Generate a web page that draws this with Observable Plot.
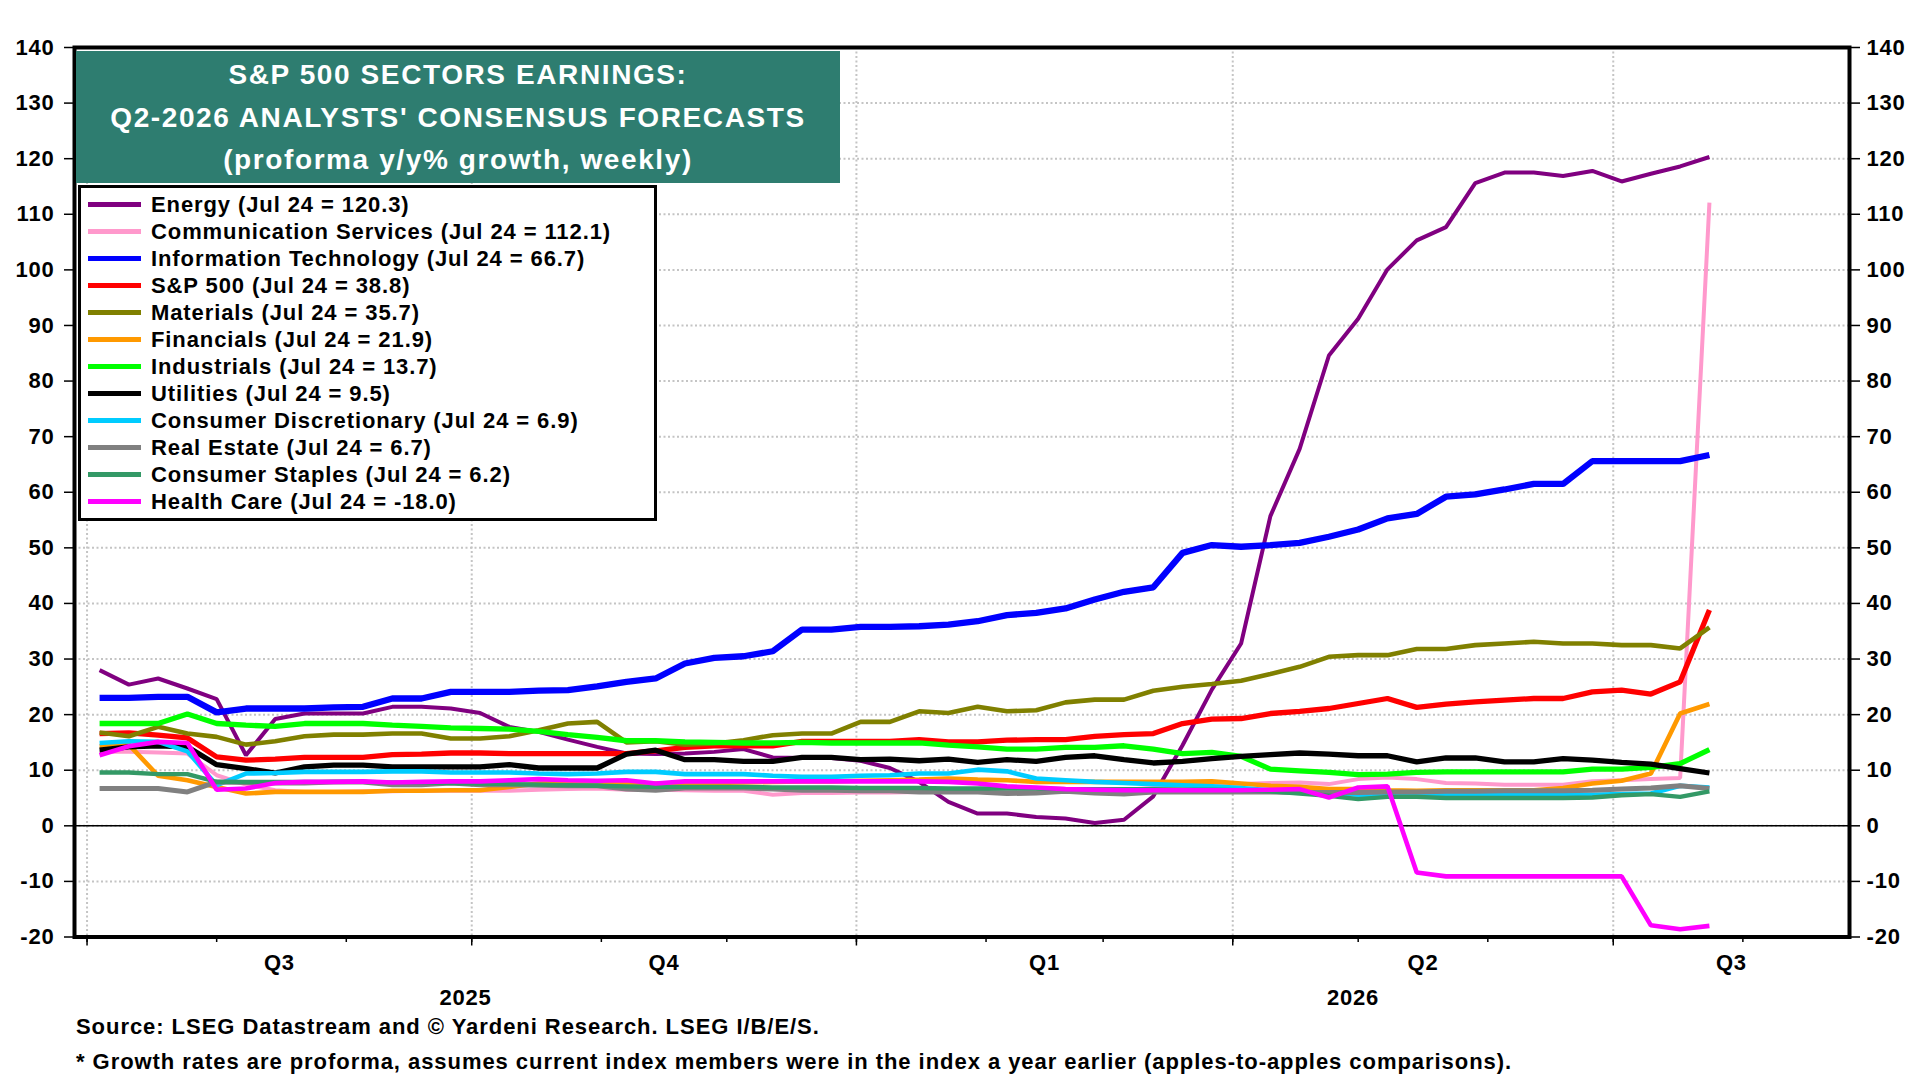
<!DOCTYPE html>
<html>
<head>
<meta charset="utf-8">
<script src="https://cdn.jsdelivr.net/npm/d3@7"></script>
<script src="https://cdn.jsdelivr.net/npm/@observablehq/plot@0.6"></script>
<style>
  html, body { margin: 0; padding: 0; background: #fff; }
  body { width: 1920px; height: 1080px; overflow: hidden; font-family: "Liberation Sans", Arial, sans-serif; font-weight: bold; color: #000; }
  #wrap { position: relative; width: 1920px; height: 1080px; }
  #chart { position: absolute; left: 0; top: 0; }
  #chart svg text { letter-spacing: 0.8px; }
  #title { position: absolute; left: 76px; top: 51px; width: 764px; height: 132px; box-sizing: border-box; padding-top: 3px;
           background: #2E7D70; color: #fff; font-size: 28px; letter-spacing: 1.6px; line-height: 42.5px; text-align: center; }
  #legend { position: absolute; left: 78px; top: 185px; width: 579px; height: 336px; box-sizing: border-box;
            border: 3px solid #000; background: #fff; }
  .lrow { position: absolute; left: 0; height: 27px; width: 570px; }
  .lsw { position: absolute; left: 7px; top: 11px; width: 53px; height: 5px; }
  .ltx { position: absolute; left: 70px; top: 0; line-height: 27px; font-size: 22px; letter-spacing: 0.9px; white-space: nowrap; }
  #source { position: absolute; left: 76px; top: 1009px; font-size: 22px; line-height: 35px; letter-spacing: 0.95px; white-space: nowrap; }
</style>
</head>
<body>
<div id="wrap">
  <div id="chart"></div>
  <div id="title"></div>
  <div id="legend"></div>
  <div id="source"></div>
</div>
<script>
// ---------------- DATA ----------------
const firstWeek = "2025-07-04";   // weekly observations, last one Jul 24, 2026
const nWeeks = 56;

const energy = [28.0,25.4,26.5,24.7,22.8,12.7,19.2,20.2,20.2,20.2,21.4,21.4,21.1,20.3,17.8,16.9,15.5,14.2,13.0,12.9,13.0,13.3,13.8,12.3,12.2,12.2,11.7,10.4,7.9,4.3,2.2,2.2,1.6,1.3,0.5,1.1,5.3,14.5,24.5,32.8,55.7,67.8,84.6,91.2,100.1,105.3,107.7,115.6,117.5,117.5,116.9,117.8,115.9,117.3,118.6,120.3];
const commServices = [13.3,13.3,13.2,13.0,9.1,7.4,6.4,6.1,6.1,6.2,6.2,6.3,6.3,6.3,6.3,6.5,6.6,6.7,6.5,6.5,6.4,6.3,6.3,5.6,5.9,5.9,6.0,6.0,6.1,6.1,6.2,6.2,6.3,6.3,6.4,6.5,6.8,7.0,7.3,7.5,7.7,7.8,7.5,8.4,8.7,8.4,7.7,7.6,7.4,7.4,7.4,8.0,8.2,8.4,8.6,112.1];
const infoTech = [23.0,23.0,23.2,23.2,20.4,21.1,21.1,21.1,21.3,21.4,22.9,22.9,24.1,24.1,24.1,24.3,24.4,25.1,25.9,26.5,29.2,30.2,30.5,31.4,35.3,35.3,35.8,35.8,35.9,36.2,36.8,37.9,38.3,39.1,40.7,42.1,42.9,49.1,50.5,50.2,50.5,50.9,52.0,53.3,55.3,56.1,59.2,59.6,60.5,61.5,61.5,65.6,65.6,65.6,65.6,66.7];
const sp500 = [16.6,16.7,16.3,15.8,12.4,11.8,12.0,12.3,12.3,12.3,12.8,12.9,13.1,13.1,13.0,13.0,13.0,13.0,13.0,13.5,14.1,14.4,14.4,14.4,15.2,15.2,15.2,15.2,15.5,15.1,15.1,15.4,15.5,15.5,16.1,16.4,16.6,18.4,19.2,19.3,20.2,20.6,21.1,22.0,22.9,21.3,21.9,22.3,22.6,22.9,22.9,24.1,24.4,23.7,25.9,38.8];
const materials = [16.8,16.1,17.8,16.6,16.0,14.6,15.2,16.1,16.4,16.4,16.6,16.6,15.7,15.7,16.1,17.2,18.4,18.7,15.0,15.2,14.6,14.8,15.4,16.3,16.6,16.6,18.7,18.7,20.6,20.3,21.4,20.6,20.8,22.2,22.7,22.7,24.3,25.0,25.5,26.1,27.3,28.6,30.4,30.7,30.7,31.8,31.8,32.5,32.8,33.1,32.8,32.8,32.5,32.5,31.9,35.7];
const financials = [14.3,14.6,9.0,8.2,7.0,5.8,6.1,6.1,6.1,6.1,6.3,6.3,6.4,6.4,7.0,7.6,7.7,7.6,7.6,7.6,7.7,7.7,7.8,7.9,8.0,8.0,8.1,8.2,8.3,8.5,8.3,8.2,7.9,7.9,7.9,7.9,7.9,7.9,8.0,7.6,7.2,7.0,6.6,6.6,6.4,6.3,6.4,6.4,6.4,6.4,6.8,7.6,8.1,9.4,20.2,21.9];
const industrials = [18.4,18.4,18.4,20.1,18.4,18.1,17.9,18.4,18.4,18.4,18.1,17.9,17.6,17.5,17.4,17.0,16.4,15.9,15.3,15.3,15.1,15.0,14.9,14.9,15.0,14.9,14.9,14.9,14.9,14.5,14.2,13.8,13.8,14.1,14.1,14.4,13.8,13.0,13.2,12.5,10.2,9.9,9.6,9.2,9.3,9.6,9.7,9.7,9.7,9.7,9.7,10.2,10.2,10.5,11.2,13.7];
const utilities = [13.6,14.2,14.4,14.2,11.0,10.3,9.5,10.6,10.9,10.9,10.6,10.6,10.6,10.6,11.0,10.4,10.4,10.4,12.9,13.6,11.9,11.9,11.6,11.6,12.3,12.3,11.9,12.0,11.7,12.0,11.4,11.9,11.6,12.3,12.6,11.9,11.3,11.6,12.1,12.5,12.8,13.1,12.9,12.6,12.6,11.5,12.2,12.2,11.5,11.5,12.1,11.8,11.4,11.1,10.3,9.5];
const consDiscretionary = [14.9,15.2,15.1,13.4,7.3,9.4,9.5,9.7,9.7,9.7,9.8,9.8,9.6,9.6,9.6,9.4,9.3,9.4,9.7,9.7,9.3,9.3,9.3,9.0,8.8,8.8,9.0,9.1,9.4,9.4,10.1,9.8,8.5,8.2,7.9,7.7,7.5,7.3,7.1,6.8,6.4,6.1,5.8,5.6,5.6,5.6,5.6,5.6,5.6,5.6,5.6,5.6,5.7,5.8,7.2,6.9];
const realEstate = [6.7,6.7,6.7,6.1,7.9,7.8,7.7,7.7,7.9,7.9,7.4,7.4,7.7,7.4,7.4,7.3,7.2,7.2,6.6,6.4,6.8,6.8,6.8,6.6,6.4,6.4,6.3,6.3,6.1,6.1,6.1,5.8,5.9,6.2,5.9,5.7,6.1,6.1,6.1,6.1,6.1,6.0,6.0,6.0,6.1,6.1,6.2,6.2,6.3,6.3,6.3,6.4,6.6,6.8,7.2,6.7];
const consStaples = [9.6,9.6,9.3,9.3,7.9,7.9,7.9,7.9,7.9,7.9,7.8,7.8,7.7,7.6,7.5,7.4,7.3,7.2,7.1,7.0,7.0,7.0,7.0,6.9,6.9,6.9,6.8,6.8,6.8,6.7,6.7,6.7,6.7,6.6,6.6,6.6,6.6,6.5,6.5,6.4,6.2,5.8,5.4,4.8,5.2,5.2,5.0,5.0,5.0,5.0,5.0,5.1,5.5,5.7,5.2,6.2];
const healthCare = [12.7,14.3,15.1,14.9,6.5,6.7,7.7,7.9,7.9,8.0,7.8,7.9,8.0,8.0,8.2,8.4,8.2,8.1,8.2,7.6,8.0,8.0,8.0,8.0,8.0,8.0,8.0,8.0,8.0,7.9,7.6,7.1,6.9,6.6,6.5,6.4,6.4,6.4,6.4,6.4,6.5,6.6,5.1,6.9,7.1,-8.4,-9.1,-9.1,-9.1,-9.1,-9.1,-9.1,-9.1,-17.9,-18.6,-18.0];

const seriesNames = ["Energy","Communication Services","Information Technology","S&P 500","Materials","Financials","Industrials","Utilities","Consumer Discretionary","Real Estate","Consumer Staples","Health Care"];
const seriesValues = [energy, commServices, infoTech, sp500, materials, financials, industrials, utilities, consDiscretionary, realEstate, consStaples, healthCare];

const titleLines = ["S&P 500 SECTORS EARNINGS:", "Q2-2026 ANALYSTS' CONSENSUS FORECASTS", "(proforma y/y% growth, weekly)"];
const sourceLines = ["Source: LSEG Datastream and \u00A9 Yardeni Research. LSEG I/B/E/S.",
                     "* Growth rates are proforma, assumes current index members were in the index a year earlier (apples-to-apples comparisons)."];

const yTicks = [-20,-10,0,10,20,30,40,50,60,70,80,90,100,110,120,130,140];
const quarterStarts = ["2025-07-01","2025-10-01","2026-01-01","2026-04-01","2026-07-01"];
const quarterLabels = ["Q3","Q4","Q1","Q2","Q3"];
const yearStarts = ["2025-01-01","2026-01-01"];
const yearLabels = ["2025","2026"];

// ---------------- STYLES ----------------
const seriesColors = ["#800080","#FF99CC","#0000FF","#FF0000","#808000","#FF9900","#00FF00","#000000","#00CCFF","#808080","#339966","#FF00FF"];
const seriesWidths = [4,4,6.3,5.3,4.6,4.6,5.3,5.3,4.6,5,4.4,4.6];

// ---------------- BUILD ----------------
const parse = s => new Date(s + "T00:00:00Z");
const dates = d3.range(nWeeks).map(i => d3.utcDay.offset(parse(firstWeek), 7 * i));
const xDomain = [new Date(Date.UTC(2025, 5, 28)), new Date(Date.UTC(2026, 7, 26, 12))];

const qStarts = quarterStarts.map(parse);
const clipMid = (a, b) => {
  const lo = Math.max(+a, +xDomain[0]), hi = Math.min(+b, +xDomain[1]);
  return new Date((lo + hi) / 2);
};
const qMid = qStarts.map((s, i) => ({date: clipMid(s, d3.utcMonth.offset(s, 3)), label: quarterLabels[i]}));
const yMid = yearStarts.map((s, i) => ({date: clipMid(parse(s), d3.utcYear.offset(parse(s), 1)), label: yearLabels[i]}));
const months = d3.utcMonth.range(xDomain[0], xDomain[1]);

const tables = seriesValues.map((vals, k) => vals.map((v, i) => ({date: dates[i], value: v, series: seriesNames[k]})));

const H = 1010, frameBottom = 936.5;
const font = {fontSize: 22, fontWeight: "bold"};

const chart = Plot.plot({
  width: 1920,
  height: H,
  marginTop: 47,
  marginLeft: 74,
  marginRight: 71,
  marginBottom: H - frameBottom,
  x: {type: "utc", domain: xDomain},
  y: {domain: [-20, 140]},
  style: {fontFamily: "'Liberation Sans', Arial, sans-serif", fontSize: "22px", fontWeight: "bold", color: "#000", background: "#fff", overflow: "visible"},
  marks: [
    Plot.gridY(yTicks, {stroke: "#c4c4c4", strokeOpacity: 1, strokeWidth: 2, strokeDasharray: "2,2.5"}),
    Plot.gridX(qStarts, {stroke: "#c4c4c4", strokeOpacity: 1, strokeWidth: 2, strokeDasharray: "2,2.5"}),
    Plot.ruleY([0], {stroke: "#000", strokeWidth: 1.5}),
    ...tables.map((t, k) => Plot.line(t, {x: "date", y: "value", stroke: seriesColors[k], strokeWidth: seriesWidths[k], strokeLinejoin: "miter", strokeLinecap: "butt"})),
    Plot.frame({stroke: "#000", strokeWidth: 4}),
    Plot.axisY(yTicks, {anchor: "left", tickSize: 10, tickPadding: 10, strokeWidth: 1.5, tickFormat: d => String(d), label: null, ...font}),
    Plot.axisY(yTicks, {anchor: "right", tickSize: 10, tickPadding: 7, strokeWidth: 1.5, tickFormat: d => String(d), label: null, ...font}),
    Plot.axisX(months, {tickSize: 5.5, strokeWidth: 1.5, fill: "none", label: null}),
    Plot.axisX(qStarts, {tickSize: 9, strokeWidth: 1.5, fill: "none", label: null}),
    Plot.text(qMid, {x: "date", text: "label", frameAnchor: "bottom", dy: 26, lineAnchor: "middle", fill: "#000", ...font}),
    Plot.text(yMid, {x: "date", text: "label", frameAnchor: "bottom", dy: 61, lineAnchor: "middle", fill: "#000", ...font})
  ]
});
document.getElementById("chart").appendChild(chart);

// Title
document.getElementById("title").innerHTML = titleLines.map(t => `<div>${t.replace(/&/g, "&amp;")}</div>`).join("");

// Legend
const lastLabel = d3.utcFormat("%b %-d")(dates[dates.length - 1]);
const legend = document.getElementById("legend");
seriesNames.forEach((name, k) => {
  const vals = seriesValues[k];
  const row = document.createElement("div");
  row.className = "lrow";
  row.style.top = (2.5 + 27 * k) + "px";
  const sw = document.createElement("div");
  sw.className = "lsw";
  sw.style.background = seriesColors[k];
  const tx = document.createElement("div");
  tx.className = "ltx";
  tx.textContent = `${name} (${lastLabel} = ${vals[vals.length - 1].toFixed(1)})`;
  row.appendChild(sw);
  row.appendChild(tx);
  legend.appendChild(row);
});

// Source
document.getElementById("source").innerHTML = sourceLines.map(t => `<div>${t}</div>`).join("");
</script>
</body>
</html>
